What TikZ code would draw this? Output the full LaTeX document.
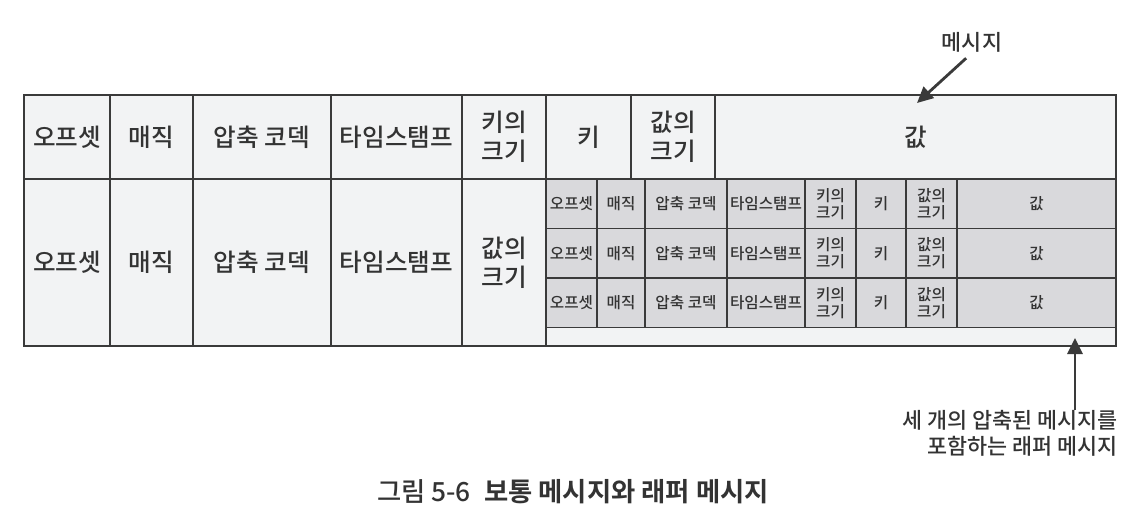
\documentclass[tikz,border=0pt]{standalone}
\usepackage{fontspec}
\IfFontExistsTF{Noto Sans CJK KR Medium}
  {\setmainfont{Noto Sans CJK KR Medium}[BoldFont={Noto Sans CJK KR Bold}]}
  {\setmainfont{Noto Sans CJK KR}}
\usepackage{tikz}
\usetikzlibrary{positioning,arrows.meta}
\definecolor{linegray}{HTML}{3A3A3A}
\definecolor{cellgray}{HTML}{F2F3F4}
\definecolor{innergray}{HTML}{D9D9DC}
\definecolor{textgray}{HTML}{333333}

\begin{document}
\begin{tikzpicture}[
                node distance=0pt,
                cell/.style={rectangle, draw=linegray, fill=cellgray, line width=1.4pt, outer sep=0pt, inner sep=0pt, minimum height=1.68cm, text=textgray, align=center, font=\fontsize{14}{16.5}\selectfont},
                tallcell/.style={cell, minimum height=3.34cm},
                innercell/.style={rectangle, draw=linegray, fill=innergray, line width=1pt, outer sep=0pt, inner sep=0pt, minimum height=0.99cm, text=textgray, align=center, font=\fontsize{8.9}{9.6}\selectfont},
                note/.style={text=textgray, font=\fontsize{12.4}{15}\selectfont},
                pointer/.style={-{Triangle[length=0.32cm, width=0.3cm]}, line width=1.6pt, draw=linegray},
            ]
            \useasboundingbox (0,0) rectangle (22.76,-10.12);

            %Nodes
            \node[cell, minimum width=1.72cm, anchor=north west] (offset) at (0.48,-1.90) {오프셋};
            \node[cell, minimum width=1.66cm] (magic)   [right=of offset]  {매직};
            \node[cell, minimum width=2.76cm] (codec)   [right=of magic]   {압축 코덱};
            \node[cell, minimum width=2.62cm] (stamp)   [right=of codec]   {타임스탬프};
            \node[cell, minimum width=1.68cm] (keysize) [right=of stamp]   {키의\\크기};
            \node[cell, minimum width=1.70cm] (key)     [right=of keysize] {키};
            \node[cell, minimum width=1.68cm] (valsize) [right=of key]     {값의\\크기};
            \node[cell, minimum width=8.02cm] (value)   [right=of valsize] {값};

            \node[tallcell, minimum width=1.72cm] (boffset)  [below=of offset]  {오프셋};
            \node[tallcell, minimum width=1.66cm] (bmagic)   [below=of magic]   {매직};
            \node[tallcell, minimum width=2.76cm] (bcodec)   [below=of codec]   {압축 코덱};
            \node[tallcell, minimum width=2.62cm] (bstamp)   [below=of stamp]   {타임스탬프};
            \node[tallcell, minimum width=1.68cm] (bvalsize) [below=of keysize] {값의\\크기};

            %Wrapped messages
            \foreach \r in {1,2,3}{
                \node[innercell, minimum width=1.02cm, anchor=north west, yshift={(1-\r)*0.99cm}] (ioffset\r) at (bvalsize.north east) {오프셋};
                \node[innercell, minimum width=0.96cm] (imagic\r)   [right=of ioffset\r]  {매직};
                \node[innercell, minimum width=1.64cm] (icodec\r)   [right=of imagic\r]   {압축 코덱};
                \node[innercell, minimum width=1.56cm] (istamp\r)   [right=of icodec\r]   {타임스탬프};
                \node[innercell, minimum width=1.02cm] (ikeysize\r) [right=of istamp\r]   {키의\\크기};
                \node[innercell, minimum width=1.00cm] (ikey\r)     [right=of ikeysize\r] {키};
                \node[innercell, minimum width=1.02cm] (ivalsize\r) [right=of ikey\r]     {값의\\크기};
                \node[innercell, minimum width=3.18cm] (ivalue\r)   [right=of ivalsize\r] {값};
            }
            \node[innercell, fill=cellgray, minimum width=11.4cm, minimum height=0.37cm, anchor=north west] (strip) at (ioffset3.south west) {};

            %Frames
            \draw[line width=1.4pt, linegray] (bvalsize.north east) rectangle (strip.south east);
            \draw[line width=1.4pt, linegray] (offset.north west) rectangle (strip.south east);

            %Labels
            \node[note] (msglabel) at (19.44,-0.84) {메시지};
            \coordinate (msgtip) at (18.34,-2.06);
            \node[note, align=right, anchor=north east, inner sep=0pt] (wraplabel) at (22.36,-8.2) {세 개의 압축된 메시지를\\포함하는 래퍼 메시지};
            \coordinate (wraptip) at (21.5,-6.76);
            \node[text=textgray, font=\fontsize{15}{18}\selectfont] (caption) at (11.46,-9.84) {그림 5-6\enspace\textbf{보통 메시지와 래퍼 메시지}};

            %Lines
            \draw[pointer] (msglabel.250) -- (msgtip);
            \draw[pointer] (wraptip |- wraplabel.north) -- (wraptip);
        \end{tikzpicture}
\end{document}
